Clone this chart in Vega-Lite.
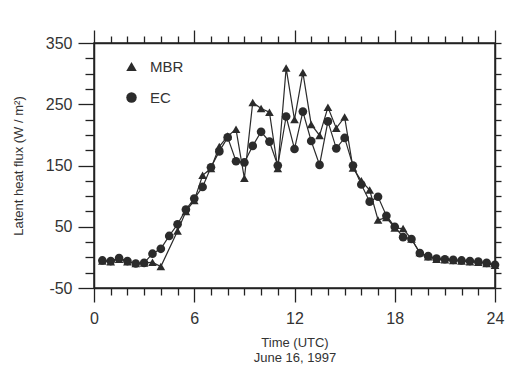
{
  "$schema": "https://vega.github.io/schema/vega-lite/v6.json",
  "width": 401,
  "height": 245,
  "autosize": "none",
  "padding": {"left": 94, "top": 43, "right": 12, "bottom": 77},
  "background": "white",
  "config": {
    "font": "Liberation Sans",
    "view": {"stroke": "#222", "strokeWidth": 1.5},
    "axis": {"grid": false, "domainColor": "#222", "domainWidth": 1.5, "tickColor": "#222", "tickWidth": 1.3, "labelColor": "#333", "titleColor": "#333", "titleFontWeight": "normal", "labelFont": "Liberation Sans", "titleFont": "Liberation Sans"},
    "legend": {"labelFont": "Liberation Sans"}
  },
  "data": {"values": [
    {"t":0.5,"flux":-5,"method":"EC"},{"t":1,"flux":-6,"method":"EC"},{"t":1.5,"flux":-1,"method":"EC"},{"t":2,"flux":-6,"method":"EC"},{"t":2.5,"flux":-10,"method":"EC"},{"t":3,"flux":-9,"method":"EC"},{"t":3.5,"flux":6,"method":"EC"},{"t":4,"flux":14,"method":"EC"},{"t":4.5,"flux":35,"method":"EC"},{"t":5,"flux":54,"method":"EC"},{"t":5.5,"flux":78,"method":"EC"},{"t":6,"flux":96,"method":"EC"},{"t":6.5,"flux":115,"method":"EC"},{"t":7,"flux":147,"method":"EC"},{"t":7.5,"flux":173,"method":"EC"},{"t":8,"flux":196,"method":"EC"},{"t":8.5,"flux":157,"method":"EC"},{"t":9,"flux":155,"method":"EC"},{"t":9.5,"flux":182,"method":"EC"},{"t":10,"flux":205,"method":"EC"},{"t":10.5,"flux":189,"method":"EC"},{"t":11,"flux":150,"method":"EC"},{"t":11.5,"flux":230,"method":"EC"},{"t":12,"flux":177,"method":"EC"},{"t":12.5,"flux":238,"method":"EC"},{"t":13,"flux":190,"method":"EC"},{"t":13.5,"flux":151,"method":"EC"},{"t":14,"flux":222,"method":"EC"},{"t":14.5,"flux":178,"method":"EC"},{"t":15,"flux":195,"method":"EC"},{"t":15.5,"flux":150,"method":"EC"},{"t":16,"flux":119,"method":"EC"},{"t":16.5,"flux":91,"method":"EC"},{"t":17,"flux":99,"method":"EC"},{"t":17.5,"flux":68,"method":"EC"},{"t":18,"flux":50,"method":"EC"},{"t":18.5,"flux":33,"method":"EC"},{"t":19,"flux":30,"method":"EC"},{"t":19.5,"flux":7,"method":"EC"},{"t":20,"flux":2,"method":"EC"},{"t":20.5,"flux":-2,"method":"EC"},{"t":21,"flux":-3,"method":"EC"},{"t":21.5,"flux":-4,"method":"EC"},{"t":22,"flux":-5,"method":"EC"},{"t":22.5,"flux":-6,"method":"EC"},{"t":23,"flux":-7,"method":"EC"},{"t":23.5,"flux":-9,"method":"EC"},{"t":24,"flux":-12,"method":"EC"},
    {"t":0.5,"flux":-6,"method":"MBR"},{"t":1,"flux":-7,"method":"MBR"},{"t":1.5,"flux":-3,"method":"MBR"},{"t":2,"flux":-7,"method":"MBR"},{"t":2.5,"flux":-10,"method":"MBR"},{"t":3,"flux":-9,"method":"MBR"},{"t":3.5,"flux":-8,"method":"MBR"},{"t":4,"flux":-15,"method":"MBR"},{"t":5,"flux":43,"method":"MBR"},{"t":5.5,"flux":75,"method":"MBR"},{"t":6,"flux":93,"method":"MBR"},{"t":6.5,"flux":134,"method":"MBR"},{"t":7,"flux":145,"method":"MBR"},{"t":7.5,"flux":181,"method":"MBR"},{"t":8,"flux":198,"method":"MBR"},{"t":8.5,"flux":209,"method":"MBR"},{"t":9,"flux":129,"method":"MBR"},{"t":9.5,"flux":253,"method":"MBR"},{"t":10,"flux":243,"method":"MBR"},{"t":10.5,"flux":237,"method":"MBR"},{"t":11,"flux":145,"method":"MBR"},{"t":11.5,"flux":309,"method":"MBR"},{"t":12,"flux":225,"method":"MBR"},{"t":12.5,"flux":302,"method":"MBR"},{"t":13,"flux":217,"method":"MBR"},{"t":13.5,"flux":199,"method":"MBR"},{"t":14,"flux":245,"method":"MBR"},{"t":14.5,"flux":211,"method":"MBR"},{"t":15,"flux":229,"method":"MBR"},{"t":15.5,"flux":146,"method":"MBR"},{"t":16,"flux":125,"method":"MBR"},{"t":16.5,"flux":110,"method":"MBR"},{"t":17,"flux":61,"method":"MBR"},{"t":17.5,"flux":65,"method":"MBR"},{"t":18,"flux":48,"method":"MBR"},{"t":18.5,"flux":47,"method":"MBR"},{"t":19,"flux":30,"method":"MBR"},{"t":19.5,"flux":8,"method":"MBR"},{"t":20,"flux":1,"method":"MBR"},{"t":20.5,"flux":-3,"method":"MBR"},{"t":21,"flux":-4,"method":"MBR"},{"t":21.5,"flux":-5,"method":"MBR"},{"t":22,"flux":-6,"method":"MBR"},{"t":22.5,"flux":-7,"method":"MBR"},{"t":23,"flux":-8,"method":"MBR"},{"t":23.5,"flux":-10,"method":"MBR"},{"t":24,"flux":-13,"method":"MBR"}
  ]},
  "resolve": {"axis": {"x": "independent", "y": "independent"}},
  "layer": [
    {
      "mark": {"type": "line", "color": "#2b2b2b", "strokeWidth": 1.2},
      "encoding": {
        "x": {"field": "t", "type": "quantitative", "scale": {"domain": [0, 24], "nice": false},
          "axis": {"orient": "bottom", "values": [0,1,2,3,4,5,6,7,8,9,10,11,12,13,14,15,16,17,18,19,20,21,22,23,24],
            "labelExpr": "datum.value % 6 === 0 ? datum.label : ''",
            "tickSize": {"condition": {"test": "datum.value % 6 === 0", "value": 14}, "value": 7},
            "labelFontSize": 16, "labelPadding": 8, "labelFlush": false,
            "title": ["Time (UTC)", "June 16, 1997"], "titleFontSize": 13, "titlePadding": 10, "titleLineHeight": 15}},
        "y": {"field": "flux", "type": "quantitative", "scale": {"domain": [-50, 350], "nice": false},
          "axis": {"orient": "left", "values": [-50,-25,0,25,50,75,100,125,150,175,200,225,250,275,300,325,350],
            "labelExpr": "(datum.value + 50) % 100 === 0 ? replace(datum.label, '\u2212', '-') : ''",
            "tickSize": {"condition": {"test": "(datum.value + 50) % 100 === 0", "value": 16}, "value": 9},
            "labelFontSize": 16, "labelPadding": 6, "labelFlush": false,
            "title": "Latent heat flux (W / m²)", "titleFontSize": 13, "titlePadding": 20}},
        "detail": {"field": "method"}
      }
    },
    {
      "mark": {"type": "point", "filled": true, "color": "#2b2b2b", "opacity": 1, "size": 75},
      "encoding": {
        "x": {"field": "t", "type": "quantitative",
          "axis": {"orient": "top", "values": [0,1,2,3,4,5,6,7,8,9,10,11,12,13,14,15,16,17,18,19,20,21,22,23,24],
            "labels": false, "title": null,
            "tickSize": {"condition": {"test": "datum.value % 6 === 0", "value": 13}, "value": 7}}},
        "y": {"field": "flux", "type": "quantitative",
          "axis": {"orient": "right", "values": [-50,-25,0,25,50,75,100,125,150,175,200,225,250,275,300,325,350],
            "labels": false, "title": null, "tickSize": 6}},
        "shape": {"field": "method", "type": "nominal",
          "scale": {"domain": ["MBR", "EC"], "range": ["triangle-up", "circle"]},
          "legend": {"orient": "none", "legendX": 30, "legendY": 16, "title": null, "labelFontSize": 15, "labelColor": "#333", "symbolSize": 110, "symbolFillColor": "#2b2b2b", "symbolStrokeColor": "#2b2b2b", "rowPadding": 14, "labelOffset": 11}}
      }
    }
  ]
}
